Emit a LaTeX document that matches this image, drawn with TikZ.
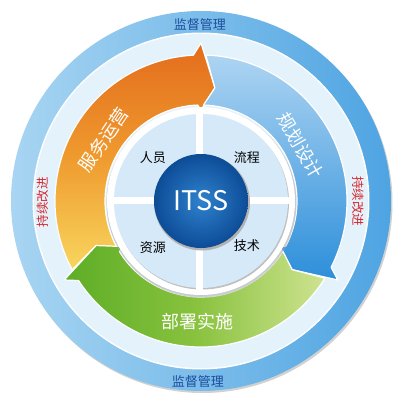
\documentclass[tikz,border=0pt]{standalone}
\usepackage{fontspec}
\setmainfont{Noto Sans CJK SC}
\usepackage{xcolor}
\usetikzlibrary{calc}

\definecolor{ringdark}{HTML}{4EA4E2}
\definecolor{ringlight}{HTML}{A8D5F2}
\definecolor{bandlight}{HTML}{E4F2FC}
\definecolor{orgdark}{HTML}{E36C1C}
\definecolor{orgmid}{HTML}{EF9A2E}
\definecolor{orglight}{HTML}{F8D65E}
\definecolor{bluelight}{HTML}{ADD4F2}
\definecolor{bluedark}{HTML}{2D8FDA}
\definecolor{grndark}{HTML}{5DAD26}
\definecolor{grnmid}{HTML}{88C23E}
\definecolor{grnlight}{HTML}{CFE391}
\definecolor{quadfill}{HTML}{D5E9F8}
\definecolor{itssin}{HTML}{2F82CE}
\definecolor{itssout}{HTML}{0D4C97}
\definecolor{txtblue}{HTML}{1D4D9C}
\definecolor{txtred}{HTML}{D6262B}

\tikzset{
  armedge/.style={draw=white, line width=1.2pt, line join=round},
  orangearm/.style={armedge, top color=orgdark, bottom color=orglight, middle color=orgmid},
  bluearm/.style={armedge, top color=bluelight, bottom color=bluedark},
  greenarm/.style={armedge, left color=grndark, right color=grnlight, middle color=grnmid},
  quadlabel/.style={black, font=\fontsize{13}{13}\selectfont},
  armlabel/.style={white, font=\fontsize{18}{18}\selectfont},
  ringlabel/.style={txtblue, font=\fontsize{13}{13}\selectfont},
  looplabel/.style={txtred, font=\fontsize{12.5}{12.5}\selectfont}
}

\begin{document}
\begin{tikzpicture}[x=1pt,y=1pt]
\useasboundingbox (-201pt,-204pt) rectangle (204pt,201pt);
\fill[white] (-201pt,-204pt) rectangle (204pt,201pt);

% outer ring
\fill[black!18] (1.5pt,-2pt) circle (190pt);
\path[left color=ringlight, right color=ringdark] (0,0) circle (190pt);
\fill[white] (0,0) circle (168.5pt);
\fill[bandlight] (0,0) circle (167pt);

% the three arms, tail angle / head angle
\foreach \T/\H/\sty in {210/90/orangearm, 90/-30/bluearm, -30/-150/greenarm}{
  \path[\sty] ({\T-1.9}:146pt) arc[start angle=\T-1.9, end angle=\H+3, radius=146pt]
    -- (\H:158pt) -- ({\H-7}:114pt) -- (\H:91pt) -- ({\H+2}:96pt)
    arc[start angle=\H+2, end angle=\T-1.5, radius=96pt]
    -- ({\T-7}:114pt) -- cycle;
}

% inner disk
\fill[black!35, opacity=0.5] (0.5pt,-1.5pt) circle (95pt);
\fill[white] (0,0) circle (94pt);
\fill[black!25] (1pt,-1.5pt) circle (87pt);
\fill[quadfill] (0,0) circle (87pt);
\draw[white, line width=7pt] (-1pt,-92pt) -- (-1pt,92pt);
\draw[white, line width=7pt] (-92pt,1pt) -- (92pt,1pt);

% ITSS
\fill[black!30] (1pt,-1.5pt) circle (48pt);
\path[inner color=itssin, outer color=itssout] (0,0) circle (47pt);
\node[white, font=\fontsize{27}{27}\selectfont] (itss) at (0,0) {ITSS};

\node[quadlabel] (renyuan) at (-48pt,43pt) {人员};
\node[quadlabel] (liucheng) at (46pt,43pt) {流程};
\node[quadlabel] (ziyuan) at (-48pt,-47pt) {资源};
\node[quadlabel] (jishu) at (46pt,-45pt) {技术};

% arm labels
\node[armlabel, rotate=56] (yunying) at (148:115pt) {服务运营};
\node[armlabel, rotate=-60] (guihua) at (29:114pt) {规划设计};
\node[armlabel] (bushu) at (-3pt,-121pt) {部署实施};

% ring labels
\node[looplabel, rotate=90] (gaijin-l) at (-158pt,-1pt) {持续改进};
\node[looplabel, rotate=-90] (gaijin-r) at (157pt,0pt) {持续改进};
\node[ringlabel] (jiandu-t) at (-1pt,176pt) {监督管理};
\node[ringlabel] (jiandu-b) at (-3pt,-181pt) {监督管理};

\end{tikzpicture}
\end{document}
